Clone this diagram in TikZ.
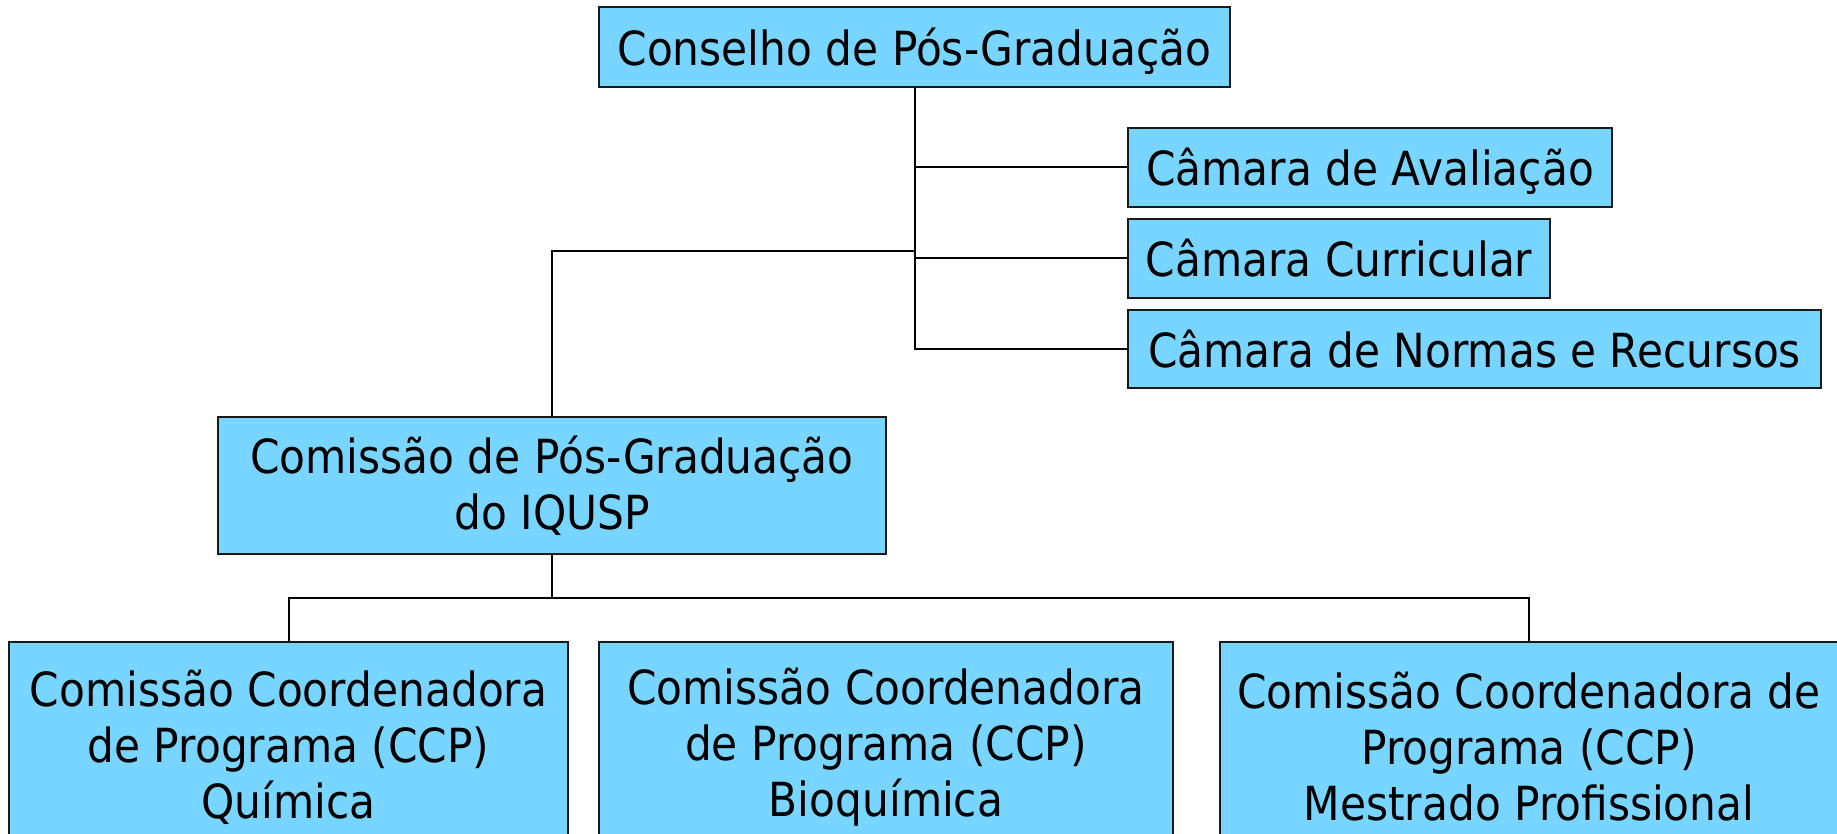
\documentclass[tikz,border=0pt]{standalone}
\usepackage{fontspec}
\setmainfont{DejaVu Sans}[FakeStretch=0.9]
\definecolor{boxblue}{RGB}{120,213,255}
\definecolor{edge}{RGB}{25,25,25}
\begin{document}
\begin{tikzpicture}[x=1pt,y=-1pt,
  box/.style={draw=edge, line width=1.8pt, fill=boxblue, inner sep=0pt,
    font=\fontsize{47}{56}\selectfont, align=center},
  oneline/.style={text height=37pt, text depth=0pt},
  conn/.style={draw=black, line width=2pt}]
\useasboundingbox (0,0) rectangle (1837,834);
\clip (0,0) rectangle (1837,834);

\node[box, oneline, minimum width=631pt, minimum height=80pt] (cons) at (914.5,47) {Conselho de Pós-Graduação};
\node[box, oneline, minimum width=484pt, minimum height=79pt] (cav) at (1370,167.5) {Câmara de Avaliação};
\node[box, oneline, minimum width=422pt, minimum height=79pt] (ccur) at (1339,258.5) {Câmara Curricular};
\node[box, oneline, minimum width=693pt, minimum height=78pt] (cnr) at (1474.5,349) {Câmara de Normas e Recursos};
\node[box, minimum width=668pt, minimum height=137pt] (cpg) at (552,485.5) {Comissão de Pós-Graduação\\do IQUSP};
\node[box, minimum width=559pt, minimum height=210pt] (q) at (288.5,747) {Comissão Coordenadora\\de Programa (CCP)\\Química};
\node[box, minimum width=574pt, minimum height=210pt] (b) at (886,747) {Comissão Coordenadora\\de Programa (CCP)\\Bioquímica};
\node[box, minimum width=618pt, minimum height=210pt] (m) at (1529,747) {Comissão Coordenadora de\\Programa (CCP)\\Mestrado Profissional};

\coordinate (j) at (914.5,251);
\coordinate (bus) at (552,598);

\draw[conn] (cons.south) |- (cnr.west);
\draw[conn] (cav.west) -- (cav.west -| cons.south);
\draw[conn] (ccur.west) -- (ccur.west -| cons.south);
\draw[conn] (j) -| (cpg.north);
\draw[conn] (cpg.south) -- (bus);
\draw[conn] (q.north) -- (q.north |- bus) -- (m.north |- bus) -- (m.north);
\end{tikzpicture}
\end{document}
